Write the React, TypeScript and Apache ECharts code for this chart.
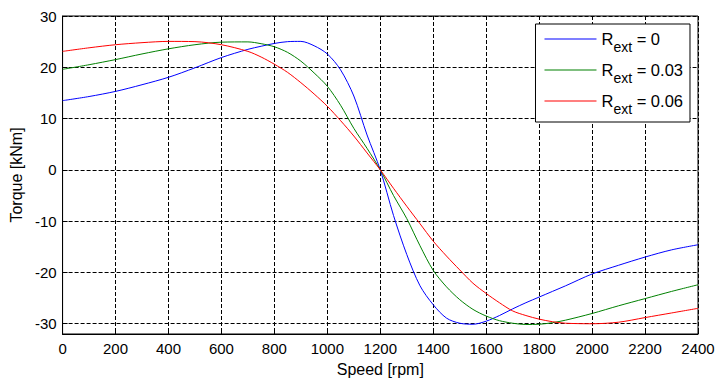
import React, { useEffect, useRef } from "react";
import * as echarts from "echarts";

const speed = [0, 100, 200, 300, 400, 500, 600, 700, 750, 800, 850, 900, 950, 1000, 1050, 1100, 1150, 1200, 1250, 1300, 1350, 1400, 1450, 1500, 1550, 1600, 1650, 1700, 1750, 1800, 1850, 1900, 2000, 2100, 2200, 2300, 2400];

const torqueR0 = [13.5, 14.3, 15.3, 16.6, 18.05, 19.9, 21.9, 23.5, 24.1, 24.65, 25.0, 25.05, 24.2, 22.6, 19.5, 14.4, 6.8, 0, -8.9, -16.5, -22.6, -26.3, -28.9, -29.9, -30.1, -29.5, -28.4, -27.1, -25.9, -24.8, -23.7, -22.6, -20.3, -18.6, -17.0, -15.6, -14.6];

const torqueR003 = [19.6, 20.5, 21.5, 22.6, 23.6, 24.4, 24.9, 24.95, 24.6, 24.0, 22.9, 21.2, 18.9, 16.3, 12.6, 8.1, 4.2, 0, -5.0, -9.5, -14.8, -19.6, -22.8, -25.3, -27.2, -28.5, -29.4, -29.9, -30.15, -30.1, -29.8, -29.3, -28.0, -26.5, -25.1, -23.7, -22.4];

const torqueR006 = [23.1, 23.8, 24.4, 24.8, 25.05, 25.0, 24.4, 23.1, 22.0, 20.6, 19.0, 17.0, 14.8, 12.4, 9.6, 6.6, 3.3, 0, -3.6, -7.1, -10.5, -13.9, -16.8, -19.5, -22.1, -24.1, -25.9, -27.5, -28.4, -29.1, -29.6, -29.9, -30.0, -29.7, -28.8, -27.9, -27.0];

const rextLabels = ["0", "0.03", "0.06"];
const seriesData = [torqueR0, torqueR003, torqueR006];
const seriesColors = ["#0000ff", "#008000", "#ff0000"];

const xTicks = { min: 0, max: 2400, interval: 200 };
const yRange = { min: -32, max: 30 };

const FONT = "'Liberation Sans', Arial, sans-serif";

export default function App() {
  const ref = useRef<HTMLDivElement>(null);
  useEffect(() => {
    if (!ref.current) return;
    const chart = echarts.init(ref.current, undefined, { renderer: "svg" });
    const names = rextLabels.map((v) => `Rext = ${v}`);
    chart.setOption({
      animation: false,
      backgroundColor: "#ffffff",
      textStyle: { fontFamily: FONT },
      grid: {
        left: 60,
        right: 21,
        top: 16,
        bottom: 50,
        show: true,
        borderColor: "#000",
        borderWidth: 1,
        backgroundColor: "#fff",
      },
      legend: {
        orient: "vertical",
        right: 29,
        top: 24,
        data: names.map((n) => ({ name: n, icon: "rect" })),
        itemWidth: 52,
        itemHeight: 1.2,
        itemGap: 7,
        padding: [6, 7, 6, 9],
        borderColor: "#000",
        borderWidth: 1,
        backgroundColor: "#fff",
        borderRadius: 0,
        selectedMode: false,
        formatter: (name: string) => {
          const idx = names.indexOf(name);
          return `{r|R}{s|ext}{r| = ${rextLabels[idx]}}`;
        },
        textStyle: {
          fontFamily: FONT,
          color: "#000",
          rich: {
            r: { fontFamily: FONT, fontSize: 16.5, color: "#000", lineHeight: 18, verticalAlign: "top" },
            s: { fontFamily: FONT, fontSize: 14, color: "#000", lineHeight: 14, padding: [10, 0, 0, 0], verticalAlign: "top" },
          },
        },
      },
      xAxis: {
        type: "value",
        min: xTicks.min,
        max: xTicks.max,
        interval: xTicks.interval,
        name: "Speed [rpm]",
        nameLocation: "middle",
        nameGap: 27,
        nameTextStyle: { fontFamily: FONT, fontSize: 16, color: "#000" },
        axisLine: { show: true, onZero: false, lineStyle: { color: "#000", width: 1 } },
        axisTick: { show: true, inside: true, length: 5, lineStyle: { color: "#000" } },
        axisLabel: { fontFamily: FONT, fontSize: 15, color: "#000", margin: 7, formatter: (v: number) => String(v) },
        splitLine: { show: true, lineStyle: { color: "#000", type: [4, 2], width: 1 } },
      },
      yAxis: {
        type: "value",
        min: yRange.min,
        max: yRange.max,
        splitNumber: 6,
        name: "Torque [kNm]",
        nameLocation: "middle",
        nameGap: 37,
        nameTextStyle: { fontFamily: FONT, fontSize: 16, color: "#000" },
        axisLine: { show: true, onZero: false, lineStyle: { color: "#000", width: 1 } },
        axisTick: { show: true, inside: true, length: 5, lineStyle: { color: "#000" } },
        axisLabel: {
          fontFamily: FONT,
          fontSize: 15,
          color: "#000",
          margin: 6,
          showMinLabel: false,
          formatter: (v: number) => (v % 10 === 0 ? String(v) : ""),
        },
        splitLine: { show: true, lineStyle: { color: "#000", type: [4, 2], width: 1 } },
      },
      series: seriesData.map((d, i) => ({
        name: names[i],
        type: "line",
        data: speed.map((s, j) => [s, d[j]]),
        smooth: 0.3,
        symbol: "none",
        lineStyle: { color: seriesColors[i], width: 1 },
        itemStyle: { color: seriesColors[i] },
        z: 3,
      })),
    });
    return () => chart.dispose();
  }, []);
  return (
    <div
      ref={ref}
      style={{ position: "fixed", left: 0, top: 0, width: 719, height: 384 }}
    />
  );
}
